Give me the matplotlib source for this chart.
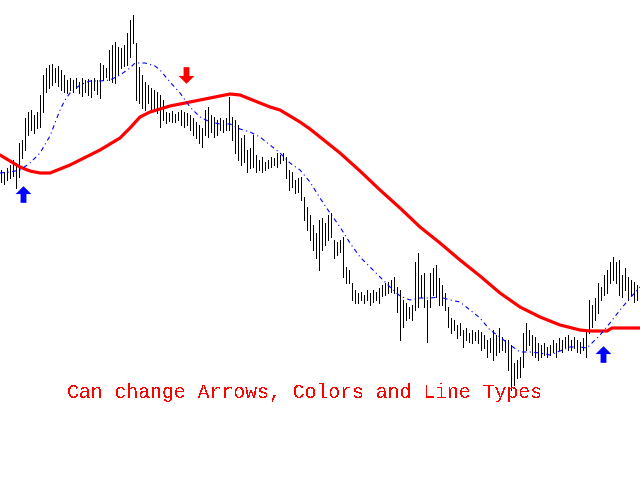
import matplotlib
matplotlib.use("Agg")
import matplotlib.pyplot as plt
from matplotlib.path import Path
import numpy as np

# ---- data (vertical values are chart levels, top = small) ----
bar_x = list(range(1, 640, 3))
bar_top = [170, 172, 168, 165, 160, 163, 143, 140, 118, 112, 110, 115, 112, 95, 75, 68, 65, 64, 68, 66,
           70, 75, 80, 78, 80, 78, 82, 78, 80, 79, 80, 78, 80, 63, 65, 68, 50, 45, 42, 47,
           48, 45, 33, 20, 15, 43, 67, 75, 82, 85, 88, 90, 92, 95, 100, 112, 113, 111, 114, 112,
           110, 112, 113, 115, 118, 122, 125, 128, 110, 107, 115, 117, 120, 118, 120, 118, 97, 117, 120, 125,
           138, 135, 150, 148, 135, 155, 160, 157, 162, 160, 157, 158, 153, 155, 153, 157, 170, 172, 180, 178,
           177, 197, 207, 215, 225, 233, 220, 218, 223, 215, 213, 240, 242, 240, 237, 267, 270, 283, 290, 293,
           292, 295, 290, 293, 290, 292, 288, 285, 283, 282, 280, 277, 287, 290, 300, 303, 307, 305, 262, 253,
           275, 273, 300, 273, 268, 265, 278, 285, 293, 307, 318, 320, 325, 323, 330, 328, 333, 330, 332, 330,
           332, 335, 340, 338, 330, 335, 328, 337, 340, 340, 345, 363, 360, 357, 333, 323, 330, 335, 337, 343,
           345, 343, 347, 345, 340, 343, 338, 340, 337, 335, 340, 337, 340, 342, 338, 330, 300, 305, 298, 283,
           287, 275, 270, 262, 257, 262, 260, 275, 268, 277, 280, 282, 285]
bar_bottom = [182, 184, 180, 178, 176, 188, 177, 158, 150, 135, 130, 133, 128, 127, 112, 92, 88, 85, 82, 86,
              90, 92, 93, 90, 92, 88, 93, 96, 92, 95, 97, 90, 94, 98, 80, 77, 80, 82, 83, 75,
              68, 66, 65, 57, 43, 100, 103, 108, 110, 103, 112, 110, 113, 127, 120, 123, 121, 122, 122, 120,
              125, 127, 125, 130, 135, 138, 143, 147, 135, 137, 132, 137, 135, 130, 132, 130, 130, 140, 153, 160,
              165, 162, 172, 168, 167, 172, 170, 172, 170, 168, 167, 165, 167, 163, 160, 178, 190, 187, 193, 192,
              200, 220, 230, 240, 250, 258, 270, 250, 245, 240, 237, 258, 255, 252, 277, 283, 283, 300, 303, 303,
              300, 303, 300, 305, 302, 300, 303, 296, 295, 293, 292, 293, 312, 340, 327, 320, 318, 320, 310, 307,
              297, 307, 342, 307, 295, 297, 305, 305, 310, 327, 333, 330, 338, 335, 347, 340, 342, 343, 340, 343,
              350, 348, 357, 352, 360, 355, 352, 350, 352, 370, 390, 385, 378, 377, 367, 350, 345, 355, 357, 360,
              357, 355, 357, 355, 352, 357, 350, 352, 347, 350, 350, 348, 352, 353, 350, 357, 333, 327, 320, 313,
              300, 295, 293, 283, 280, 283, 295, 297, 290, 300, 295, 302, 300]

slow_ma_x = [0, 10, 20, 30, 40, 50, 60, 70, 80, 90, 100, 110, 120, 130, 140, 150, 160, 170, 180, 190,
             200, 210, 220, 230, 240, 250, 260, 270, 280, 290, 300, 310, 320, 340, 360, 380, 400, 420, 440, 460,
             480, 500, 520, 540, 560, 580, 590, 607, 612, 640]
slow_ma_y = [155, 161, 167, 171, 173, 173, 169, 165, 160, 155, 150, 144, 138, 128, 117, 112, 109, 106, 104, 102,
             100, 98, 96, 94, 95, 99, 103, 107, 110, 116, 122, 129, 137, 153, 171, 190, 208, 227, 243, 260,
             276, 293, 307, 317, 325, 330, 331, 331, 328, 328]

fast_ma_x = [0, 10, 20, 30, 40, 50, 55, 60, 65, 70, 80, 90, 100, 110, 120, 130, 135, 145, 155, 160,
             170, 180, 190, 200, 210, 220, 230, 240, 250, 260, 270, 280, 290, 300, 310, 320, 330, 340, 350, 360,
             370, 380, 390, 400, 410, 420, 430, 440, 450, 460, 470, 480, 490, 500, 510, 520, 530, 540, 550, 560,
             570, 580, 587, 595, 600, 610, 620, 630, 640]
fast_ma_y = [173, 172, 170, 163, 153, 136, 123, 110, 100, 93, 85, 81, 81, 80, 75, 68, 63, 63, 66, 70,
             82, 93, 107, 117, 122, 124, 124, 129, 132, 137, 145, 153, 163, 170, 182, 198, 213, 227, 243, 257,
             267, 277, 287, 296, 300, 298, 298, 297, 300, 302, 310, 318, 330, 337, 345, 352, 352, 353, 355, 351,
             347, 347, 348, 340, 335, 323, 310, 298, 287]

buy_x = [23, 603]
buy_y = [194, 354]
sell_x = [186]
sell_y = [75]

caption = "Can change Arrows, Colors and Line Types"

plt.rcParams["text.antialiased"] = False

# ---- figure ----
fig = plt.figure(figsize=(6.4, 4.8), dpi=100)
ax = fig.add_axes([0, 0, 1, 1])
ax.set_xlim(0, 640)
ax.set_ylim(480, 0)
ax.axis("off")

ax.vlines(bar_x, bar_top, bar_bottom, colors="black", linewidth=0.6, antialiased=False, zorder=2)
ax.plot(slow_ma_x, slow_ma_y, color="#FF0000", linewidth=2.3, solid_capstyle="round", zorder=3)
ax.plot(fast_ma_x, fast_ma_y, color="#0000FF", linewidth=0.8,
        linestyle=(0, (4, 3, 1, 3)), zorder=4)

up_verts = [(0, 1), (0.95, 0.05), (0.35, 0.05), (0.35, -1), (-0.35, -1), (-0.35, 0.05), (-0.95, 0.05), (0, 1)]
up_codes = [Path.MOVETO] + [Path.LINETO] * 6 + [Path.CLOSEPOLY]
up_path = Path(up_verts, up_codes)
down_path = Path([(x, -y) for x, y in up_verts], up_codes)

ax.plot(buy_x, buy_y, linestyle="none", marker=up_path, markersize=12,
        color="#0000FF", markeredgewidth=0, zorder=5)
ax.plot(sell_x, sell_y, linestyle="none", marker=down_path, markersize=12,
        color="#FF0000", markeredgewidth=0, zorder=5)

ax.text(67, 398, caption, color="#FF0000", fontsize=14.3,
        family=["Liberation Mono", "DejaVu Sans Mono"], va="baseline", ha="left", zorder=6)

fig.savefig("out.png", dpi=100, facecolor="white")
